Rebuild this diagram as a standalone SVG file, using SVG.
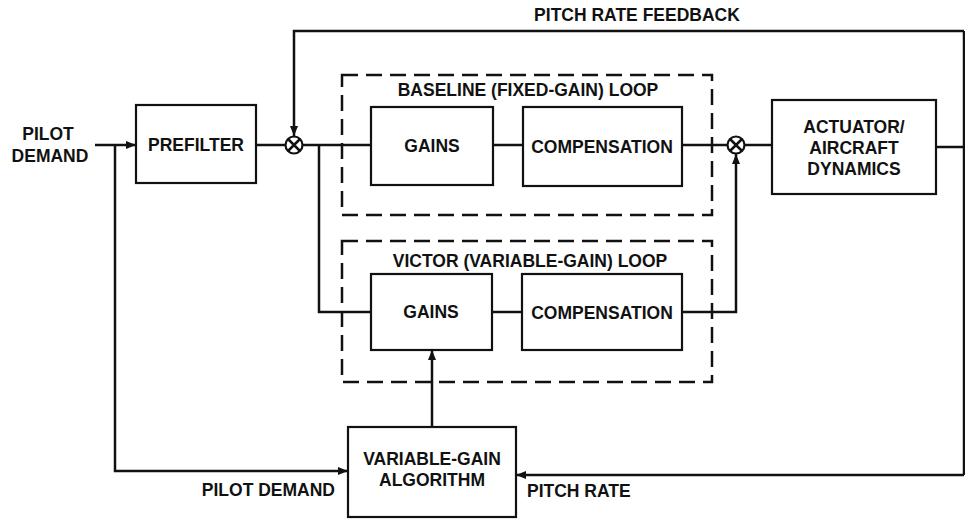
<svg xmlns="http://www.w3.org/2000/svg" width="965" height="521" viewBox="0 0 965 521">
<style>
text{font-family:"Liberation Sans",Arial,sans-serif;font-weight:bold;font-size:17.5px;fill:#111;}
.c{text-anchor:middle;}
.box{fill:#fff;stroke:#111;stroke-width:2.2;}
.dash{fill:none;stroke:#111;stroke-width:2.5;stroke-dasharray:16 8;}
.ln{fill:none;stroke:#111;stroke-width:2.5;}
.sum{fill:#fff;stroke:#111;stroke-width:2.2;}
</style>
<defs>
<marker id="ah" viewBox="0 0 10 8" refX="10" refY="4" markerWidth="10" markerHeight="8" markerUnits="userSpaceOnUse" orient="auto">
<path d="M0,0 L10,4 L0,8 Z" fill="#111"/>
</marker>
</defs>
<rect width="965" height="521" fill="#fff"/>
<g id="connectors">
<path class="ln" d="M95,145 H136" marker-end="url(#ah)"/>
<path class="ln" d="M115,145 V471 H348" marker-end="url(#ah)"/>
<path class="ln" d="M256,145 H285"/>
<path class="ln" d="M303,145 H371"/>
<path class="ln" d="M319,145 V312 H371"/>
<path class="ln" d="M493,145 H523"/>
<path class="ln" d="M492,312 H522"/>
<path class="ln" d="M682,145 H727"/>
<path class="ln" d="M745,145 H772"/>
<path class="ln" d="M682,312 H736 V154" marker-end="url(#ah)"/>
<path class="ln" d="M936,147 H964"/>
<path class="ln" d="M964,31 V475"/>
<path class="ln" d="M964,31 H294 V136" marker-end="url(#ah)"/>
<path class="ln" d="M964,475 H516" marker-end="url(#ah)"/>
<path class="ln" d="M432,427 V350" marker-end="url(#ah)"/>
</g>
<g id="baseline-loop">
<rect class="dash" x="342" y="75" width="370" height="140"/>
<text class="c" x="528" y="96">BASELINE (FIXED-GAIN) LOOP</text>
</g>
<g id="victor-loop">
<rect class="dash" x="342" y="241" width="370" height="141"/>
<text class="c" x="530" y="267">VICTOR (VARIABLE-GAIN) LOOP</text>
</g>
<g id="pilot-demand-label">
<text class="c" x="48" y="140">PILOT</text>
<text class="c" x="50" y="162">DEMAND</text>
</g>
<g id="prefilter">
<rect class="box" x="136" y="105" width="120" height="78"/>
<text class="c" x="196" y="151">PREFILTER</text>
</g>
<g id="sum1">
<circle class="sum" cx="294" cy="145" r="8.5"/>
<path class="ln" stroke-width="2" d="M288,139 L300,151 M300,139 L288,151"/>
</g>
<g id="baseline-gains">
<rect class="box" x="371" y="107" width="122" height="78"/>
<text class="c" x="432" y="152">GAINS</text>
</g>
<g id="baseline-comp">
<rect class="box" x="523" y="107" width="159" height="79"/>
<text class="c" x="602" y="153">COMPENSATION</text>
</g>
<g id="sum2">
<circle class="sum" cx="736" cy="145" r="8.5"/>
<path class="ln" stroke-width="2" d="M730,139 L742,151 M742,139 L730,151"/>
</g>
<g id="actuator">
<rect class="box" x="772" y="100" width="164" height="94"/>
<text class="c" x="854" y="133">ACTUATOR/</text>
<text class="c" x="854" y="154">AIRCRAFT</text>
<text class="c" x="854" y="175">DYNAMICS</text>
</g>
<g id="victor-gains">
<rect class="box" x="371" y="274" width="121" height="76"/>
<text class="c" x="431" y="318">GAINS</text>
</g>
<g id="victor-comp">
<rect class="box" x="522" y="274" width="160" height="76"/>
<text class="c" x="602" y="319">COMPENSATION</text>
</g>
<g id="vga">
<rect class="box" x="348" y="427" width="168" height="90"/>
<text class="c" x="432" y="465">VARIABLE-GAIN</text>
<text class="c" x="432" y="486">ALGORITHM</text>
</g>
<g id="labels">
<text x="637" y="21" class="c">PITCH RATE FEEDBACK</text>
<text x="335" y="496" text-anchor="end">PILOT DEMAND</text>
<text x="527" y="497">PITCH RATE</text>
</g>
</svg>
